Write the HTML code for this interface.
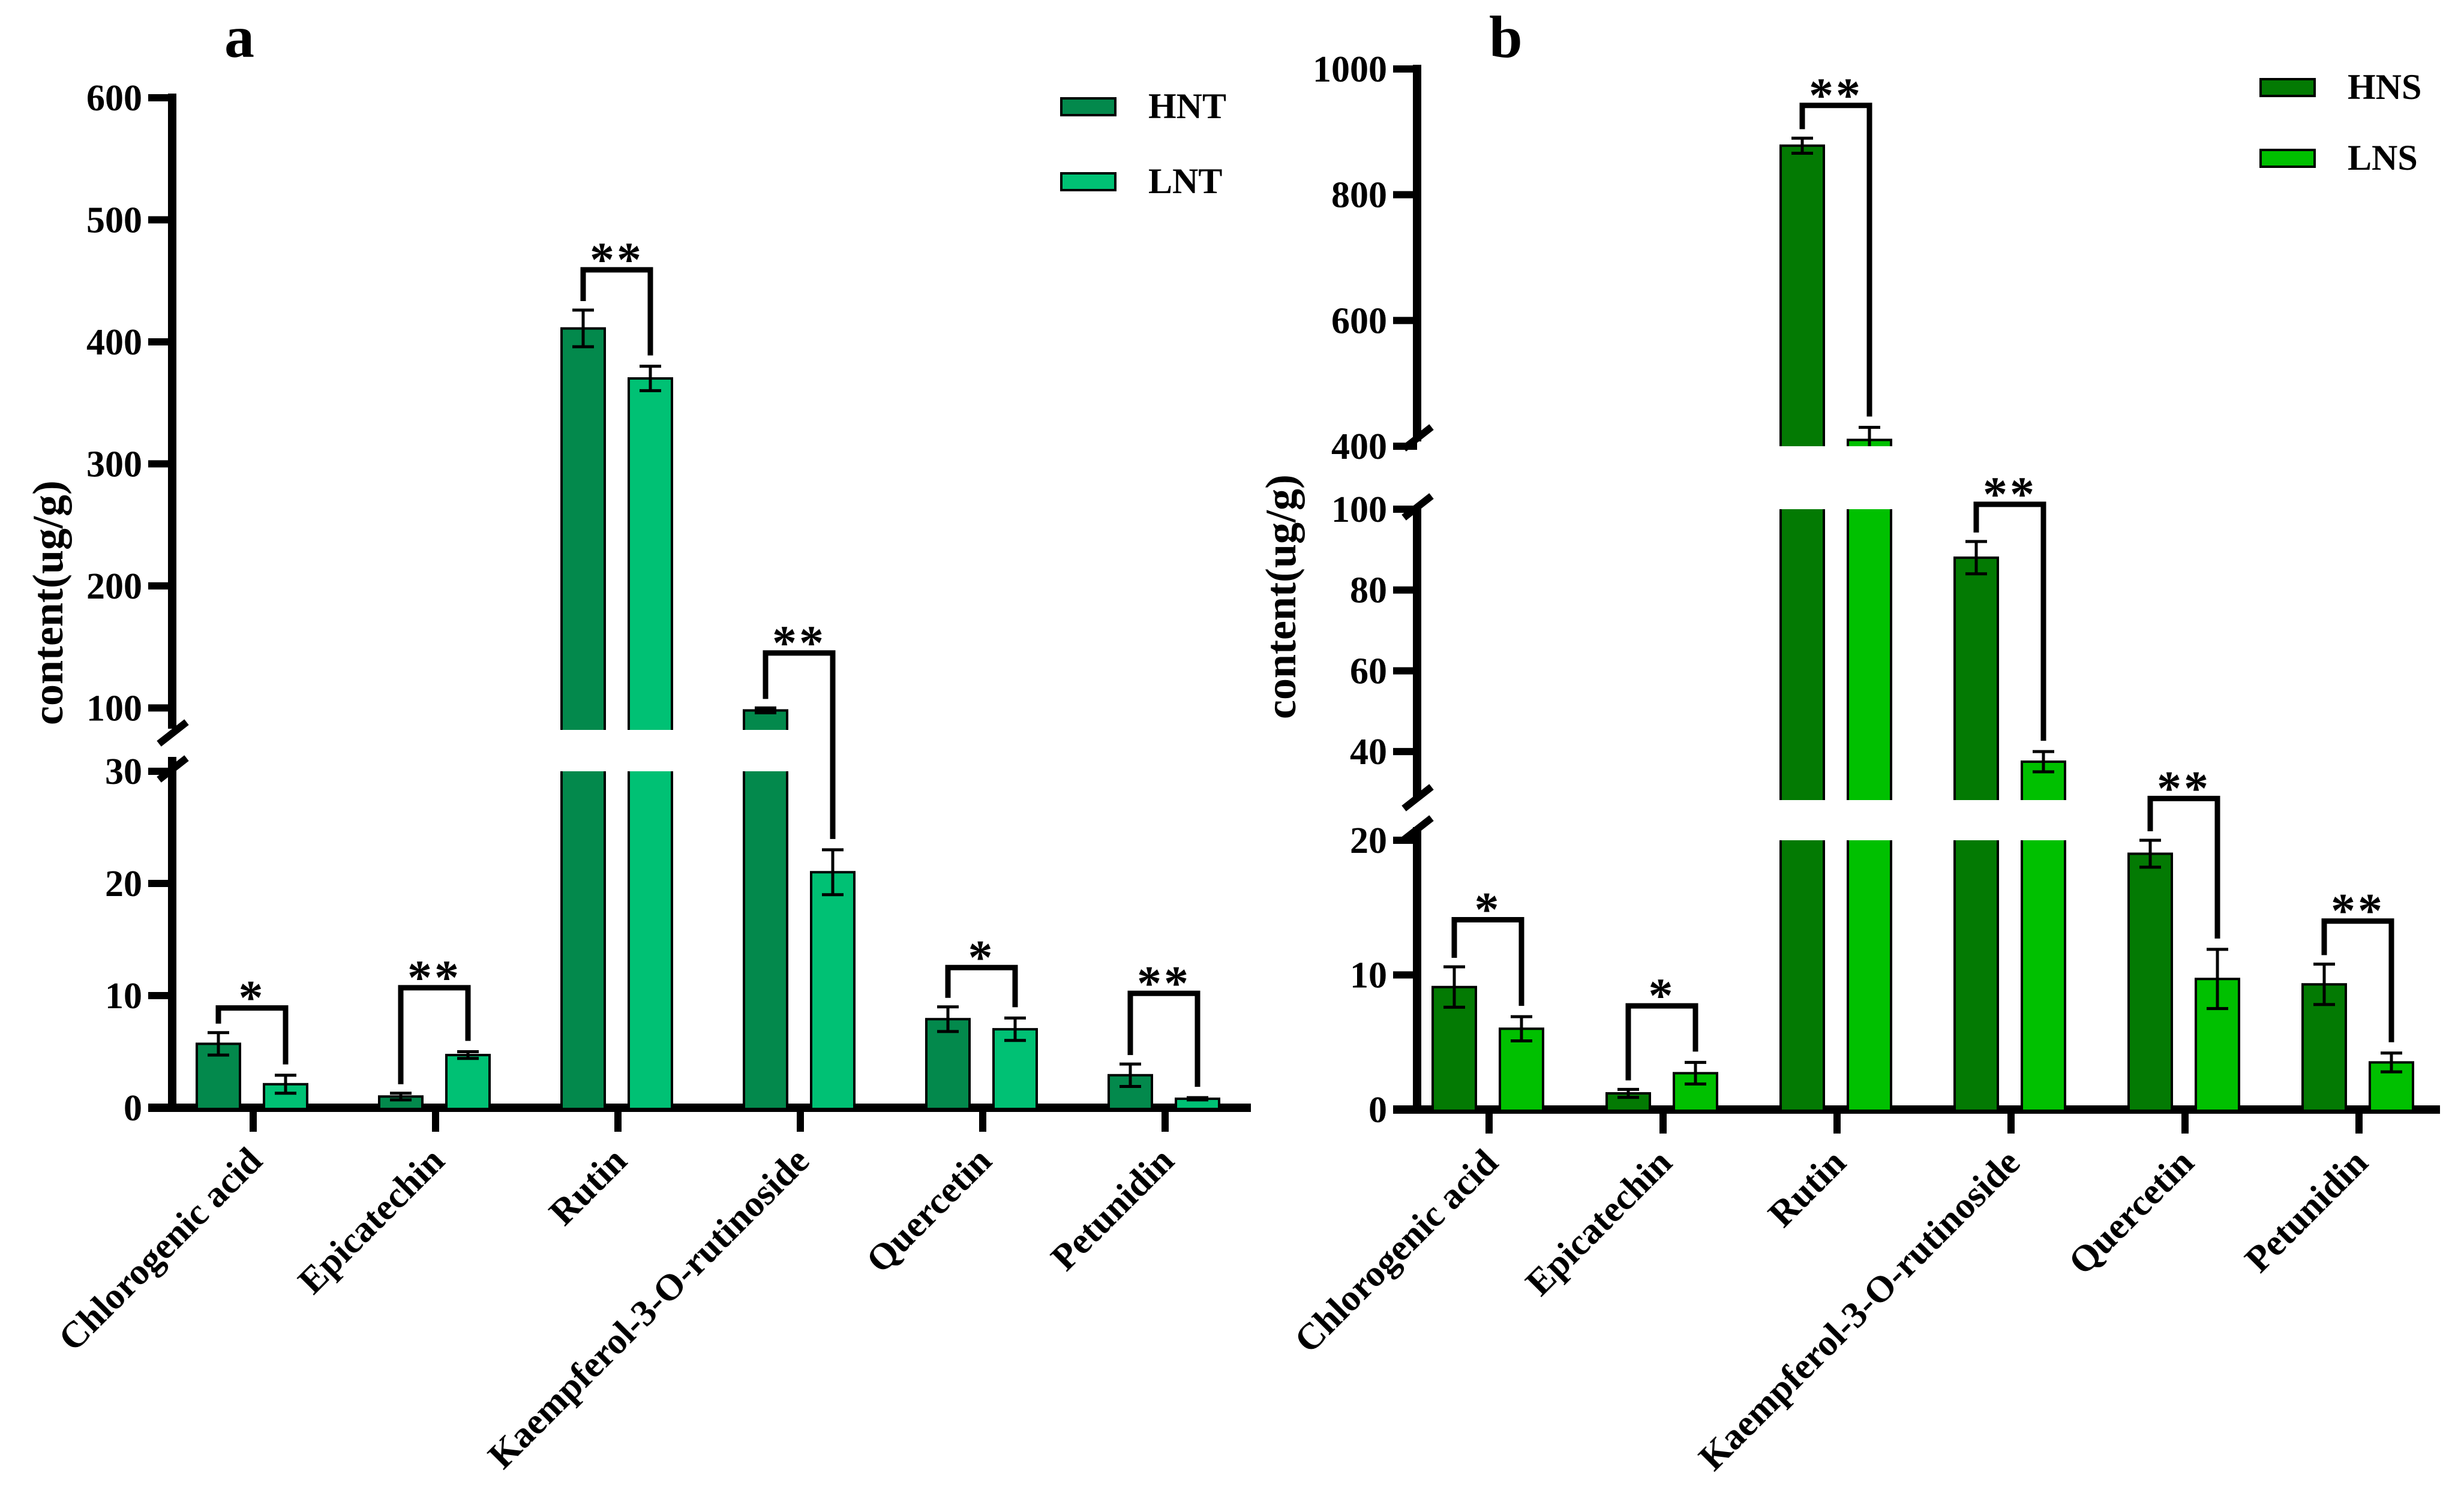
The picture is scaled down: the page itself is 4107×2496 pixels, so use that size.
<!DOCTYPE html>
<html><head><meta charset="utf-8"><style>
html,body{margin:0;padding:0;background:#fff}
svg{display:block}
text{font-family:"Liberation Serif",serif;font-weight:bold;fill:#000}
</style></head><body>
<svg id="chart" width="4107" height="2496" viewBox="0 0 4107 2496" xmlns="http://www.w3.org/2000/svg"></svg>
<script>
const categories = ["Chlorogenic acid","Epicatechin","Rutin","Kaempferol-3-O-rutinoside","Quercetin","Petunidin"];
// panel a
const hntValues = [5.7, 1.0, 411, 98, 7.9, 2.9];
const hntErrors = [1.0, 0.3, 15, 2, 1.1, 1.0];
const lntValues = [2.1, 4.7, 370, 21, 7.0, 0.8];
const lntErrors = [0.8, 0.3, 10, 2, 1.0, 0.1];
const sigA = ["*","**","**","**","*","**"];
const bracketA = [8.9, 10.7, 459, 145, 12.5, 10.2];
const ticksALow = [0,10,20,30];
const ticksAHigh = [100,200,300,400,500,600];
// panel b
const hnsValues = [9.1, 1.2, 878, 88, 19, 9.3];
const hnsErrors = [1.5, 0.3, 12, 4, 1.0, 1.5];
const lnsValues = [6.0, 2.7, 410, 37.5, 9.7, 3.5];
const lnsErrors = [0.9, 0.8, 20, 2.5, 2.2, 0.7];
const sigB = ["*","*","**","**","**","**"];
const bracketB = [14.1, 7.7, 942, 101.2, 23.1, 14.0];
const ticksBLow = [0,10,20];
const ticksBMid = [40,60,80,100];
const ticksBHigh = [400,600,800,1000];

const NS="http://www.w3.org/2000/svg";
const svg=document.getElementById('chart');
function mk(tag,attrs,parent){const e=document.createElementNS(NS,tag);for(const k in attrs)e.setAttribute(k,attrs[k]);(parent||svg).appendChild(e);return e;}

function makeScale(segs){
  return function(v){
    for(let i=0;i<segs.length;i++){
      const s=segs[i], n=segs[i+1];
      if(v<=s.hi || !n || v<n.lo){return s.p0+(v-s.lo)*(s.p1-s.p0)/(s.hi-s.lo);}
    }
  };
}

function panel(o){
  const g=mk('g',{});
  
  
  const y=makeScale(o.segs);
  const base=o.segs[0].p0;
  const xc=i=>o.x0+i*o.step;
  o.axisSegs.forEach((a,i)=>{
    const l=mk('line',{x1:o.ax,x2:o.ax,y1:a[0],y2:a[1],stroke:'#000','stroke-width':14},g);
    
    
  });
  o.breaks.forEach(b=>{
    const l=mk('line',{x1:o.ax-22,y1:b+18,x2:o.ax+24,y2:b-18,stroke:'#000','stroke-width':12},g);
    
    
  });
  const xa=mk('line',{x1:o.ax-40,x2:o.xend,y1:base,y2:base,stroke:'#000','stroke-width':14},g);
  
  
  o.ticks.forEach(t=>{
    const py=y(t);
    const tl=mk('line',{x1:o.ax-40,x2:o.ax,y1:py,y2:py,stroke:'#000','stroke-width':12},g);
    
    
    const tx=mk('text',{x:o.ax-50,y:py+21,'text-anchor':'end','font-size':62},g);
    tx.textContent=t;
    
    
  });
  function bar(cx,v,err,color,name){
    const hw=36;
    o.segs.forEach((s,si)=>{
      if(v>s.lo){
        const ends=v<=s.hi;
        const top=y(Math.min(v,s.hi)), bot=s.p0;
        const r=mk('rect',{x:cx-hw,y:top,width:hw*2,height:bot-top,fill:color},g);
        
        
        let d=`M${cx-hw},${bot}V${top}M${cx+hw},${bot}V${top}`;
        if(ends) d+=`M${cx-hw-2},${top}H${cx+hw+2}`;
        const ol=mk('path',{d:d,stroke:'#000','stroke-width':4,fill:'none'},g);
        
        
        if(ends){
          const yt=y(v+err), yb=y(Math.max(v-err,s.lo));
          let ed=`M${cx},${yt}V${yb}M${cx-18},${yt}H${cx+18}`;
          if(v-err>=s.lo) ed+=`M${cx-18},${yb}H${cx+18}`;
          const e=mk('path',{d:ed,stroke:'#000','stroke-width':5,fill:'none'},g);
          
          
        }
      }
    });
  }
  categories.forEach((c,i)=>{
    const cx=xc(i);
    const lx=cx-58, rx=cx+54;
    bar(lx,o.v1[i],o.e1[i],o.c1,'bar-'+o.k1);
    bar(rx,o.v2[i],o.e2[i],o.c2,'bar-'+o.k2);
    const tk=mk('line',{x1:cx,x2:cx,y1:base,y2:base+40,stroke:'#000','stroke-width':12},g);
    
    
    const lb=mk('text',{x:0,y:0,'text-anchor':'end','font-size':62,transform:`translate(${cx+18},${base+92}) rotate(-45)`},g);
    lb.textContent=c;
    
    
    const by=y(o.br[i]);
    const t1=y(o.v1[i]+o.e1[i])-15;
    const t2=y(o.v2[i]+o.e2[i])-18;
    const bp=mk('path',{d:`M${lx},${t1}V${by}H${rx}V${t2}`,stroke:'#000','stroke-width':9,fill:'none'},g);
    
    
    const st=mk('text',{x:(lx+rx)/2,y:by+10,'text-anchor':'middle','font-size':82,'font-weight':'normal','letter-spacing':'4'},g);
    st.textContent=o.sig[i];
    
    
  });
  const ti=mk('text',{x:o.titleX,y:95,'font-size':100},g);
  ti.textContent=o.title;
  
  
  const yl=mk('text',{x:0,y:0,'text-anchor':'middle','font-size':72,transform:`translate(${o.ylx},${o.yly}) rotate(-90)`},g);
  yl.textContent='content(ug/g)';
  
  
  [[o.k1,o.c1,o.leg[1]],[o.k2,o.c2,o.leg[2]]].forEach(([k,c,ly])=>{
    const r=mk('rect',{x:o.leg[0],y:ly,width:90,height:28,fill:c,stroke:'#000','stroke-width':4},g);
    
    
    const t=mk('text',{x:o.leg[0]+145,y:ly+33,'font-size':60},g);
    t.textContent=k;
    
    
  });
}

panel({name:'panel-a',title:'a',titleX:374,ax:287,xend:2085,x0:422,step:304,
  segs:[{lo:0,hi:30,p0:1847,p1:1286},{lo:82,hi:600,p0:1217,p1:163}],
  axisSegs:[[156,1215],[1262,1854]],breaks:[1222,1282],
  ticks:ticksALow.concat(ticksAHigh),
  v1:hntValues,e1:hntErrors,v2:lntValues,e2:lntErrors,sig:sigA,br:bracketA,
  c1:'#03894c',c2:'#00c174',k1:'HNT',k2:'LNT',leg:[1769,164,289],ylx:104,yly:1005});

panel({name:'panel-b',title:'b',titleX:2482,ax:2362,xend:4067,x0:2482,step:290,
  segs:[{lo:0,hi:20,p0:1850,p1:1401},{lo:28,hi:100,p0:1334,p1:849},{lo:400,hi:1000,p0:744,p1:115}],
  axisSegs:[[108,736],[843,1331],[1379,1857]],breaks:[730,845,1330,1382],
  ticks:ticksBLow.concat(ticksBMid,ticksBHigh),
  v1:hnsValues,e1:hnsErrors,v2:lnsValues,e2:lnsErrors,sig:sigB,br:bracketB,
  c1:'#037a03',c2:'#00c000',k1:'HNS',k2:'LNS',leg:[3768,132,250],ylx:2159,yly:995});
</script>
</body></html>
